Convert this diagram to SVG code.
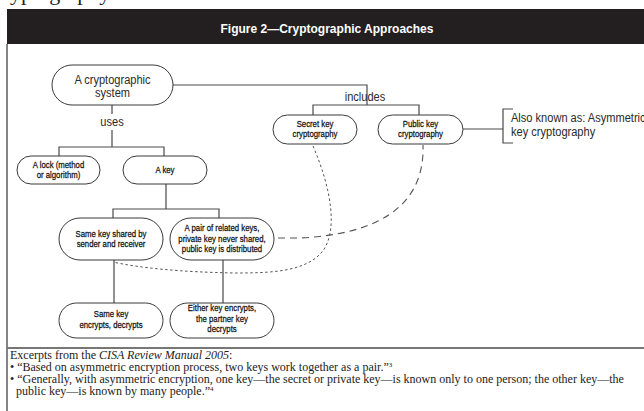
<svg xmlns="http://www.w3.org/2000/svg" width="644" height="411" viewBox="0 0 644 411">
<style>
.node{fill:#fff;stroke:#3a3a3a;stroke-width:1}
.ln{fill:none;stroke:#4a4a4a;stroke-width:1.2}
.big{font-family:"Liberation Sans",Arial,sans-serif;font-size:13.5px;fill:#2a2a2a;text-anchor:middle}
.bigl{font-family:"Liberation Sans",Arial,sans-serif;font-size:13.5px;fill:#2a2a2a;text-anchor:start}
.sm{font-family:"Liberation Sans",Arial,sans-serif;font-size:9.5px;fill:#111;stroke:#111;stroke-width:0.25;text-anchor:middle}
.ft{font-family:"Liberation Serif","Times New Roman",serif;font-size:12px;fill:#222}
.sd{fill:none;stroke:#555;stroke-width:1;stroke-dasharray:2.5,2.5}
.ld{fill:none;stroke:#555;stroke-width:1.1;stroke-dasharray:7,5}
</style>
<rect width="644" height="411" fill="#fff"/>
<text x="-7" y="0" font-family="Liberation Serif,serif" font-size="22" fill="#222">cryptography</text>
<rect x="7" y="9" width="637" height="35" fill="#231f20"/>
<text x="327" y="32.5" font-family="Liberation Sans,Arial,sans-serif" font-size="12" font-weight="bold" fill="#fff" text-anchor="middle">Figure 2—Cryptographic Approaches</text>
<line x1="7" y1="44" x2="7" y2="411" stroke="#333" stroke-width="1.2"/>
<line x1="7" y1="348" x2="644" y2="348" stroke="#777" stroke-width="2"/>

<g id="connectors">
<path class="ln" d="M173,85 H367 V105"/>
<path class="ln" d="M313,115 V105 H419 V115"/>
<path class="ln" d="M112,105 V114 M112,130 V147"/>
<path class="ln" d="M59,156 V147 H164 V156"/>
<path class="ln" d="M166,184 V209 M113,218 V209 H219 V218"/>
<path class="ln" d="M114,260 V303 M223,260 V303"/>
<path class="ln" d="M463,129 H503 M513,109 H503 V143 H513"/>
<path class="sd" d="M313,146 C332,190 338,232 322,252 C305,272 270,273 235,273 C180,272 140,268 113,262"/>
<path class="ld" d="M278,238 H300 C380,234 425,205 423,145"/>
<text class="big" transform="translate(112,126) scale(.82,1)">uses</text>
<text class="big" transform="translate(365,101) scale(.82,1)">includes</text>
</g>

<g id="system">
<rect class="node" x="52" y="65" width="121" height="40" rx="20"/>
<text class="big" transform="translate(112.5,84) scale(.82,1)">A cryptographic</text>
<text class="big" transform="translate(112.5,97) scale(.82,1)">system</text>
</g>
<g id="secret">
<rect class="node" x="273" y="115" width="84" height="29" rx="14.5"/>
<text class="sm" transform="translate(315,127) scale(.82,1)">Secret key</text>
<text class="sm" transform="translate(315,137) scale(.82,1)">cryptography</text>
</g>
<g id="public">
<rect class="node" x="378" y="115" width="85" height="29" rx="14.5"/>
<text class="sm" transform="translate(420.5,127) scale(.82,1)">Public key</text>
<text class="sm" transform="translate(420.5,137) scale(.82,1)">cryptography</text>
</g>
<g id="aka">
<text class="bigl" transform="translate(511,122) scale(.82,1)">Also known as: Asymmetric</text>
<text class="bigl" transform="translate(511,136) scale(.82,1)">key cryptography</text>
</g>
<g id="lock">
<rect class="node" x="17" y="156" width="83" height="28" rx="14"/>
<text class="sm" transform="translate(58.5,168) scale(.82,1)">A lock (method</text>
<text class="sm" transform="translate(58.5,178) scale(.82,1)">or algorithm)</text>
</g>
<g id="key">
<rect class="node" x="123" y="156" width="84" height="28" rx="14"/>
<text class="sm" transform="translate(165,173) scale(.82,1)">A key</text>
</g>
<g id="samekey">
<rect class="node" x="59" y="218" width="104" height="42" rx="21"/>
<text class="sm" transform="translate(111,237) scale(.82,1)">Same key shared by</text>
<text class="sm" transform="translate(111,247) scale(.82,1)">sender and receiver</text>
</g>
<g id="pair">
<rect class="node" x="170" y="218" width="104" height="42" rx="21"/>
<text class="sm" transform="translate(222,231) scale(.82,1)">A pair of related keys,</text>
<text class="sm" transform="translate(222,241.5) scale(.82,1)">private key never shared,</text>
<text class="sm" transform="translate(222,252) scale(.82,1)">public key is distributed</text>
</g>
<g id="sameenc">
<rect class="node" x="59" y="303" width="104" height="35" rx="17.5"/>
<text class="sm" transform="translate(111,317) scale(.82,1)">Same key</text>
<text class="sm" transform="translate(111,328) scale(.82,1)">encrypts, decrypts</text>
</g>
<g id="either">
<rect class="node" x="170" y="303" width="104" height="35" rx="17.5"/>
<text class="sm" transform="translate(222,311) scale(.82,1)">Either key encrypts,</text>
<text class="sm" transform="translate(222,321.5) scale(.82,1)">the partner key</text>
<text class="sm" transform="translate(222,332) scale(.82,1)">decrypts</text>
</g>

<g id="footer">
<text class="ft" x="10" y="359">Excerpts from the <tspan font-style="italic">CISA Review Manual 2005</tspan>:</text>
<text class="ft" x="10" y="371">• “Based on asymmetric encryption process, two keys work together as a pair.”<tspan font-size="7" dy="-4">3</tspan></text>
<text class="ft" x="10" y="383">• “Generally, with asymmetric encryption, one key—the secret or private key—is known only to one person; the other key—the</text>
<text class="ft" x="16" y="395">public key—is known by many people.”<tspan font-size="7" dy="-4">4</tspan></text>
</g>
</svg>
